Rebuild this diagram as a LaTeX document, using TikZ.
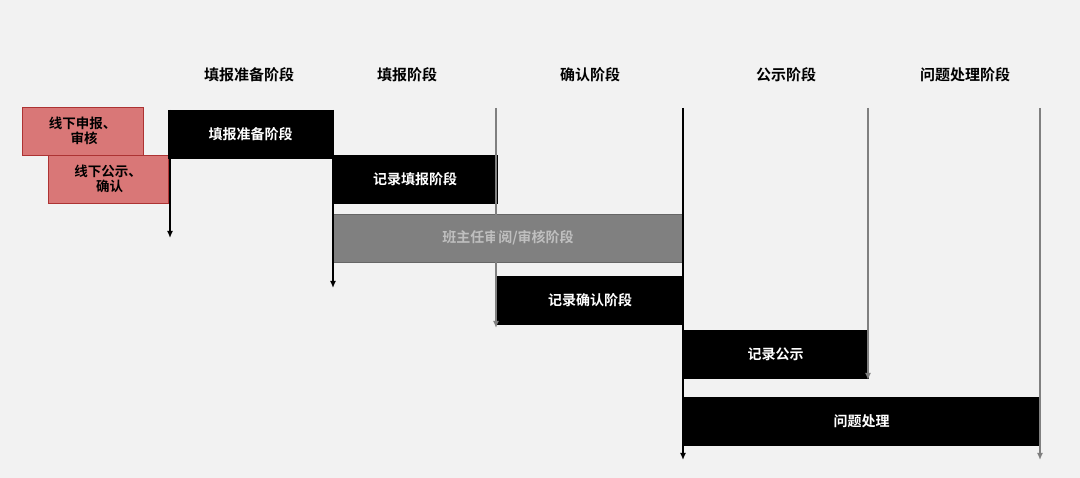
\documentclass[tikz,border=0pt]{standalone}
\usepackage{fontspec}
\newfontfamily\cjk{Noto Sans CJK SC}[BoldFont={Noto Sans CJK SC Bold}]
\begin{document}
\begin{tikzpicture}[x=1pt,y=-1pt,
  bar/.style={fill=black,draw=black,inner sep=0pt,font=\cjk\bfseries\fontsize{14}{16}\selectfont,text=white},
  redbox/.style={fill=red!45!white!85!black,draw=red!60!black!80,inner sep=0pt,font=\cjk\bfseries\fontsize{13.5}{15}\selectfont,text=black,align=center},
  hdr/.style={font=\cjk\bfseries\fontsize{15}{18}\selectfont},
  blk/.style={draw=black,line width=1.6pt,-{Latex[length=7pt,width=6pt]}},
  gry/.style={draw=gray,line width=1.6pt,-{Latex[length=7pt,width=6pt]}}]
\usetikzlibrary{arrows.meta}
\fill[black!5] (0,0) rectangle (1080,478);
\useasboundingbox (0,0) rectangle (1080,478);
\foreach \n/\x/\t in {h1/249/填报准备阶段,h2/407/填报阶段,h3/590/确认阶段,h4/786/公示阶段,h5/965/问题处理阶段}
  \node[hdr] (\n) at (\x,75) {\t};
\node[redbox,minimum width=121pt,minimum height=48pt] (r1) at (82.5,131) {线下申报、\\\ 审核};
\node[redbox,minimum width=120pt,minimum height=48pt] (r2) at (108,179) {线下公示、\\\ 确认};
\node[bar,minimum width=165pt,minimum height=48pt] (b1) at (250.5,134) {填报准备阶段};
\node[bar,minimum width=164pt,minimum height=48pt] (b2) at (415,179) {记录填报阶段};
\node[fill=gray,draw=gray!80!black,inner sep=0pt,minimum width=350pt,minimum height=48pt,font=\cjk\bfseries\fontsize{14}{16}\selectfont,text=black!25] (b3) at (508,238) {班主任审阅/审核阶段};
\node[bar,minimum width=186pt,minimum height=48pt] (b4) at (590,300) {记录确认阶段};
\node[bar,minimum width=185pt,minimum height=48pt] (b5) at (775.5,354) {记录公示};
\node[bar,minimum width=357pt,minimum height=48pt] (b6) at (861.5,421) {问题处理};
\coordinate (a1s) at (170,110); \coordinate (a1e) at (170,238);
\coordinate (a2s) at (333,110); \coordinate (a2e) at (333,288);
\coordinate (a3s) at (496,108); \coordinate (a3e) at (496,328);
\coordinate (a4s) at (683,108); \coordinate (a4e) at (683,460);
\coordinate (a5s) at (868,108); \coordinate (a5e) at (868,380);
\coordinate (a6s) at (1040,108); \coordinate (a6e) at (1040,460);
\draw[blk] (a1s) -- (a1e);
\draw[blk] (a2s) -- (a2e);
\draw[gry] (a3s) -- (a3e);
\draw[blk] (a4s) -- (a4e);
\draw[gry] (a5s) -- (a5e);
\draw[gry] (a6s) -- (a6e);
\end{tikzpicture}
\end{document}
